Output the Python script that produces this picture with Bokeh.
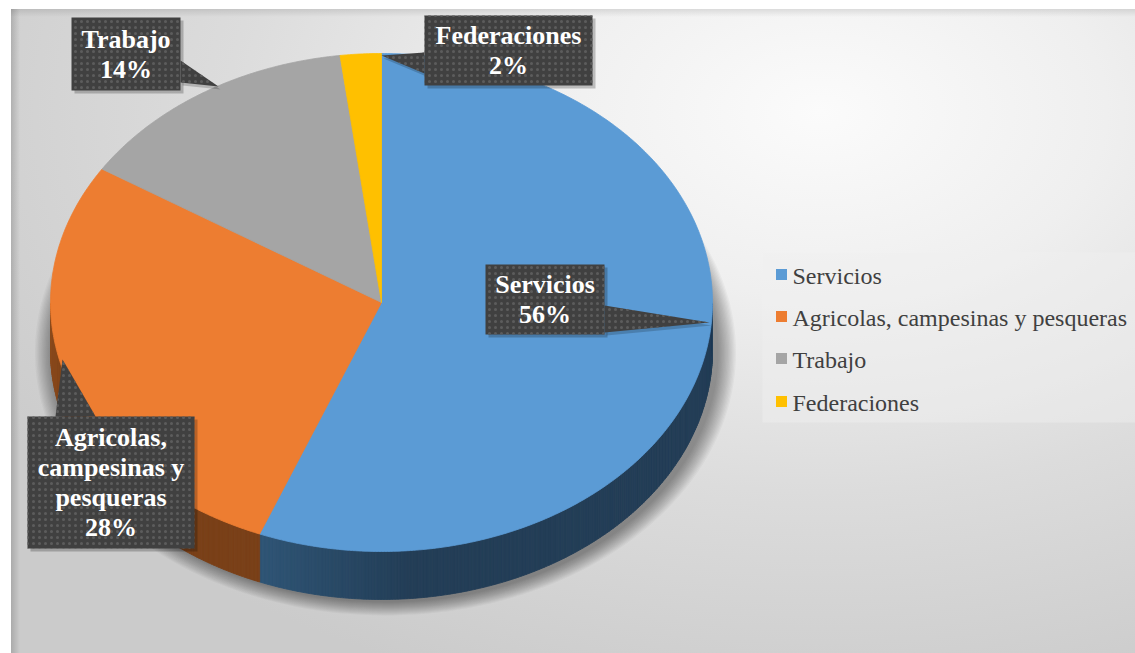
import numpy as np
from bokeh.plotting import figure
from bokeh.models import Range1d
from bokeh.core.properties import value
from bokeh.embed import file_html
from bokeh.resources import INLINE

# ---------------- data ----------------
categories = ["Servicios", "Agricolas, campesinas y pesqueras", "Trabajo", "Federaciones"]
values = [56, 28, 14, 2]
top_colors = ["#5b9bd5", "#ed7d31", "#a5a5a5", "#ffc000"]
rim_dark = ["#233e57", "#7a4018", "#5c5c5c", "#8f6b00"]
rim_light = ["#2f5576", "#8e4c1e", "#6e6e6e", "#a07800"]
callout_lines = [["Servicios"], ["Agricolas,", "campesinas y", "pesqueras"], ["Trabajo"], ["Federaciones"]]

# ---------------- layout (reference pixel coords, y down) ----------------
CX, CY, RX, RY, DEPTH = 381.0, 302.0, 331.0, 249.0, 48.0
START_DEG = 90.0
boxes = [(485, 264, 604, 334), (27, 416, 194, 548), (71, 17, 180, 90), (424, 15, 592, 85)]
ptr_base = [((604, 305), (604, 332)), ((55, 416), (95, 416)), ((180, 60), (180, 82)), ((424, 52), (424, 73))]
ptr_tip = [(709, 322), (62, 359), (218, 86), (381, 55)]
LINE_H = 30.0

W, H = 1135, 653


def Y(y):
    return float(H) - np.asarray(y, dtype=float)


p = figure(width=W, height=H, x_range=Range1d(0, W), y_range=Range1d(0, H),
           output_backend="svg", toolbar_location=None, min_border=0,
           x_axis_location=None, y_axis_location=None)
p.grid.visible = False
p.outline_line_color = None
p.background_fill_color = None
p.border_fill_color = None
p.styles = {
    "background": (
        "linear-gradient(to right, rgba(0,0,0,0.16), rgba(0,0,0,0)) 11px 9px / 9px 100% no-repeat, "
        "linear-gradient(to bottom, rgba(0,0,0,0.10), rgba(0,0,0,0)) 11px 9px / 100% 8px no-repeat, "
        "radial-gradient(ellipse 85% 95% at 72% 16%, #fbfbfb 0%, #efefef 30%, #dcdcdc 62%, #cbcbcb 100%) "
        "11px 9px / calc(100% - 11px) calc(100% - 9px) no-repeat, #ffffff"
    ),
}

# ---------------- shadow under pie ----------------
t = np.linspace(0, 2 * np.pi, 200)
sx, sy = [], []
for k in range(14):
    rx = RX + 2 + 1.35 * k
    ry = RY + 1 + 1.0 * k
    sx.append(list(385 + rx * np.cos(t)))
    sy.append(list(Y(352 + ry * np.sin(t))))
p.patches(sx[::-1], sy[::-1], fill_color="black", fill_alpha=0.03, line_color=None)

# ---------------- slice angles ----------------
total = float(sum(values))
bounds = []
a = START_DEG
for v in values:
    b = a - 360.0 * v / total
    bounds.append((a, b))
    a = b


def top_pt(deg):
    r = np.radians(deg)
    return CX + RX * np.cos(r), CY - RY * np.sin(r)


def mix(c1, c2, k):
    c1 = [int(c1[i:i + 2], 16) for i in (1, 3, 5)]
    c2 = [int(c2[i:i + 2], 16) for i in (1, 3, 5)]
    return "#%02x%02x%02x" % tuple(int(round(c1[j] * (1 - k) + c2[j] * k)) for j in range(3))


# ---------------- rim (side) ----------------
rx_l, ry_l, rc = [], [], []
for i, (a0, a1) in enumerate(bounds):
    steps = np.append(np.arange(a1, a0, 0.5), a0)
    vis = []
    for s in steps:
        m = s % 360.0
        if 180.0 <= m < 360.0:
            vis.append(m)
        elif abs(m) < 1e-9 and s != a1:
            vis.append(360.0)
    if len(vis) < 2:
        continue
    vis = sorted(vis)
    left = vis[0]
    for d0, d1 in zip(vis[:-1], vis[1:]):
        x0, y0 = top_pt(d0)
        x1, y1 = top_pt(d1)
        rx_l.append([x0, x1, x1, x0])
        ry_l.append(list(Y([y0, y1, y1 + DEPTH, y0 + DEPTH])))
        k = min(max((left + 26.0 - d0) / 26.0, 0.0), 1.0)
        rc.append(mix(rim_dark[i], rim_light[i], k))
p.patches(rx_l, ry_l, fill_color=rc, line_color=rc, line_width=0.8)

# ---------------- top face ----------------
for i, (a0, a1) in enumerate(bounds):
    degs = np.linspace(a0, a1, max(int(abs(a0 - a1)) * 2, 4))
    xs = [CX] + [top_pt(d)[0] for d in degs]
    ys = [CY] + [top_pt(d)[1] for d in degs]
    p.patch(xs, list(Y(ys)), fill_color=top_colors[i], line_color=top_colors[i], line_width=0.8)

# ---------------- callouts ----------------
font = value("Liberation Serif")
for i in range(len(values)):
    l, tp, r, bt = boxes[i]
    (bx0, by0), (bx1, by1) = ptr_base[i]
    tx, ty = ptr_tip[i]
    p.quad(left=l + 3, right=r + 3, top=Y(tp + 3), bottom=Y(bt + 3), fill_color="black", fill_alpha=0.22, line_color=None)
    p.patch([bx0 + 2, bx1 + 2, tx + 2], list(Y([by0 + 3, by1 + 3, ty + 3])), fill_color="black", fill_alpha=0.18, line_color=None)
    p.patch([bx0, bx1, tx], list(Y([by0, by1, ty])), fill_color="#404040", line_color=None,
            hatch_pattern="dot", hatch_color="#5c5c5c", hatch_scale=6, hatch_weight=1.2)
    p.quad(left=l, right=r, top=Y(tp), bottom=Y(bt), fill_color="#404040", line_color=None,
           hatch_pattern="dot", hatch_color="#5c5c5c", hatch_scale=6, hatch_weight=1.2)
    lines = callout_lines[i] + ["%d%%" % values[i]]
    n = len(lines)
    mid = (tp + bt) / 2.0
    ys = [mid + (j - (n - 1) / 2.0) * LINE_H for j in range(n)]
    p.text(x=[(l + r) / 2.0] * n, y=list(Y(ys)), text=lines, text_align="center", text_baseline="middle",
           text_font=font, text_font_style="bold", text_font_size="26px", text_color="white")

# ---------------- legend ----------------
p.quad(left=762, right=1140, top=Y(252), bottom=Y(422), fill_color="#efefef", fill_alpha=0.45, line_color=None)
leg_y = [274, 316, 358, 401]
p.scatter(x=[781] * 4, y=list(Y(leg_y)), marker="square", size=11, fill_color=top_colors, line_color=None)
p.text(x=[792] * 4, y=list(Y(np.array(leg_y) + 1)), text=categories, text_align="left", text_baseline="middle",
       text_font=font, text_font_size="24px", text_color="#404040")

open("out.html", "w").write(file_html(p, INLINE))
